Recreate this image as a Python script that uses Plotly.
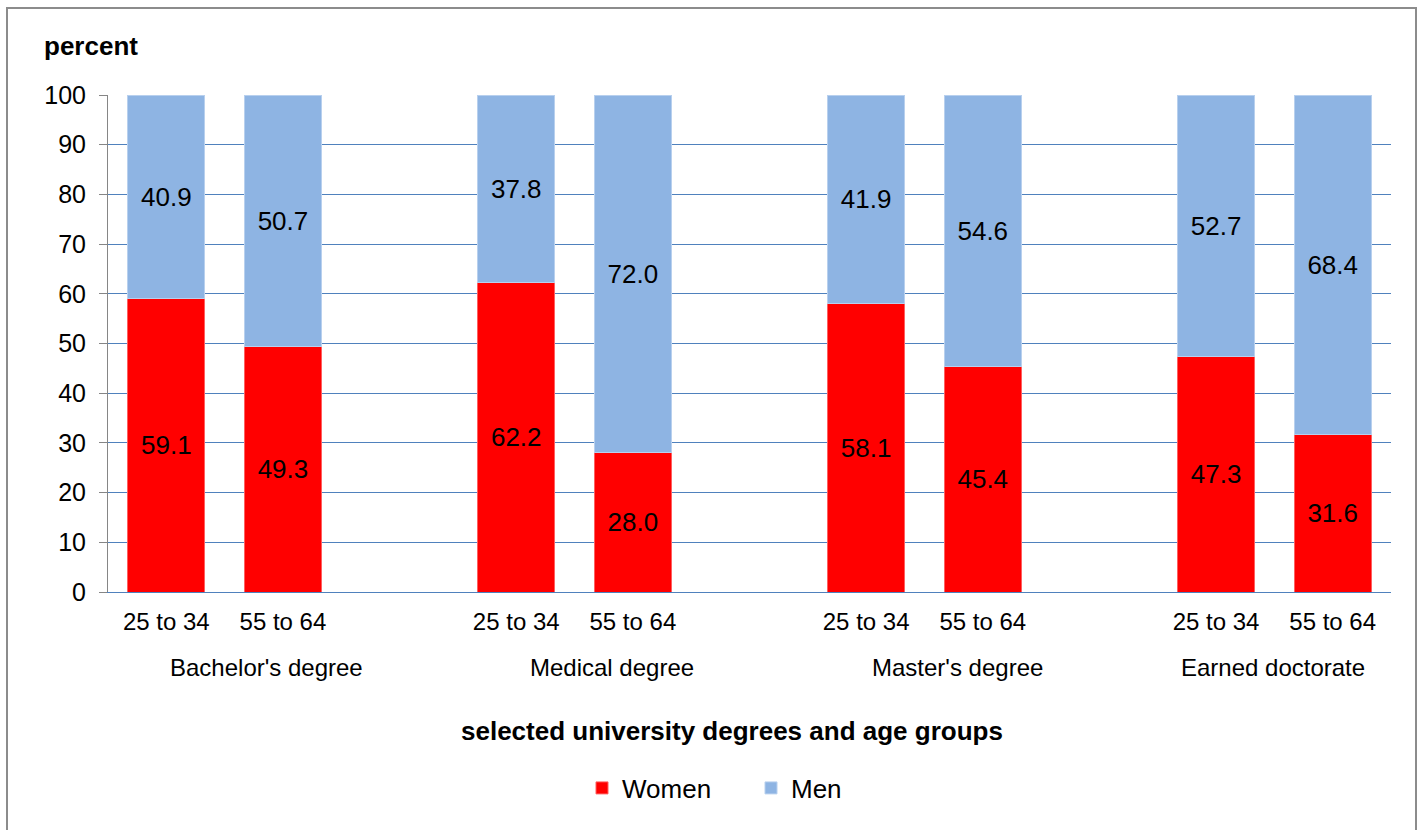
import plotly.graph_objects as go

degrees = ["Bachelor's degree", "Medical degree", "Master's degree", "Earned doctorate"]
age_groups = ["25 to 34", "55 to 64"]
women = [59.1, 49.3, 62.2, 28.0, 58.1, 45.4, 47.3, 31.6]
men = [40.9, 50.7, 37.8, 72.0, 41.9, 54.6, 52.7, 68.4]
y_ticks = [0, 10, 20, 30, 40, 50, 60, 70, 80, 90, 100]
# group label centres, in slot units (as placed in the original)
group_label_pos = [0.855, 3.82, 6.78, 9.49]

FONT = "Liberation Sans, Arial, sans-serif"
RED = "#FF0000"
BLUE = "#8EB4E3"
GRID = "#4F81BD"

# each degree occupies 3 slots: two age groups + one blank slot
xs = []
ticktext = []
for g, _ in enumerate(degrees):
    for j, a in enumerate(age_groups):
        xs.append(g * 3 + j)
        ticktext.append(a)

fig = go.Figure()
fig.add_trace(go.Bar(
    x=xs, y=women, name="Women", marker=dict(color=RED, line=dict(color="#FF6060", width=1)),
    texttemplate="%{y:.1f}", textposition="inside", insidetextanchor="middle",
    textfont=dict(color="black", size=26, family=FONT), constraintext="none",
))
fig.add_trace(go.Bar(
    x=xs, y=men, name="Men", marker=dict(color=BLUE, line=dict(color="#B8D0EE", width=1)),
    texttemplate="%{y:.1f}", textposition="inside", insidetextanchor="middle",
    textfont=dict(color="black", size=26, family=FONT), constraintext="none",
))

L, R, T, B = 108, 32, 95, 238
W, H = 1423, 830
pw, ph = W - L - R, H - T - B

annotations = []
for name, pos in zip(degrees, group_label_pos):
    annotations.append(dict(
        x=pos, y=(592 - 667) / ph, xref="x", yref="paper", text=name, showarrow=False,
        font=dict(size=24, family=FONT, color="black"), xanchor="center", yanchor="middle",
    ))
annotations.append(dict(
    x=(91 - L) / pw, y=(592 - 46) / ph, xref="paper", yref="paper", text="<b>percent</b>",
    showarrow=False, font=dict(size=26, family=FONT, color="black"), xanchor="center", yanchor="middle",
))
annotations.append(dict(
    x=(732 - L) / pw, y=(592 - 731) / ph, xref="paper", yref="paper",
    text="<b>selected university degrees and age groups</b>",
    showarrow=False, font=dict(size=26, family=FONT, color="black"), xanchor="center", yanchor="middle",
))

fig.update_layout(
    barmode="stack",
    bargap=0.34,
    width=W, height=H,
    margin=dict(l=L, r=R, t=T, b=B),
    plot_bgcolor="white", paper_bgcolor="white",
    font=dict(family=FONT, size=24, color="black"),
    showlegend=True,
    legend=dict(
        orientation="h", x=(582 - L) / pw, xanchor="left", y=(592 - 788) / ph, yanchor="middle",
        font=dict(size=26, family=FONT, color="black"), entrywidth=124, entrywidthmode="pixels",
        itemwidth=30, traceorder="normal",
    ),
    annotations=annotations,
    shapes=[dict(
        type="rect", xref="paper", yref="paper",
        x0=(7 - L) / pw, x1=(1416 - L) / pw, y0=(592 - 840) / ph, y1=(592 - 8) / ph,
        line=dict(color="#8C8C8C", width=2), fillcolor="rgba(0,0,0,0)", layer="below",
    )],
)
fig.update_xaxes(
    range=[-0.5, 10.5], tickmode="array", tickvals=xs, ticktext=ticktext,
    showgrid=False, zeroline=False, showline=True, linecolor=GRID, linewidth=1,
    ticks="", ticklabelstandoff=8, tickfont=dict(size=24, family=FONT, color="black"),
)
fig.update_yaxes(
    range=[0, 100], tickmode="array", tickvals=y_ticks,
    showgrid=True, gridcolor=GRID, gridwidth=1,
    zeroline=True, zerolinecolor=GRID, zerolinewidth=1,
    showline=True, linecolor="#868686", linewidth=1,
    ticks="outside", ticklen=8, tickcolor="#868686", ticklabelstandoff=8,
    tickfont=dict(size=25, family=FONT, color="black"),
)

fig.write_html("out.html")
